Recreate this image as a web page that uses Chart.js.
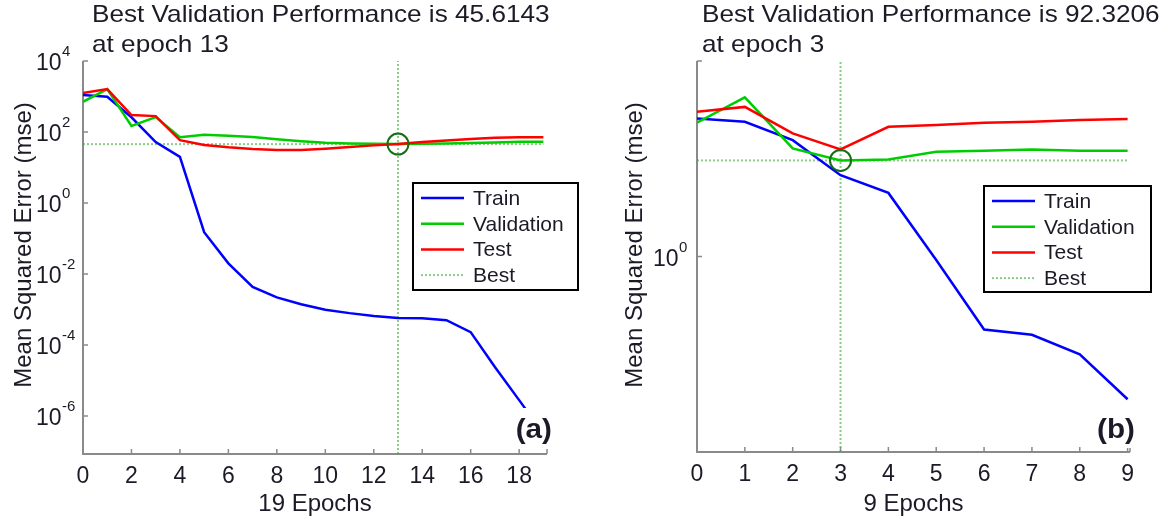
<!DOCTYPE html>
<html lang="en">
<head>
<meta charset="UTF-8">
<title>Best Validation Performance</title>
<script src="https://cdn.jsdelivr.net/npm/chart.js"></script>
<style>
    html, body { margin: 0; padding: 0; background: #fff; }
    #wrap { position: relative; width: 1167px; height: 523px; overflow: hidden; }
    .panel { position: absolute; top: 0; height: 523px; }
</style>
</head>
<body>
<div id="wrap">
    <div class="panel" style="left:0;width:583px"><canvas id="chartA" width="583" height="523"></canvas></div>
    <div class="panel" style="left:583px;width:584px"><canvas id="chartB" width="584" height="523"></canvas></div>
</div>
<script>
// ---- panel (a) ----
var epochsA = [0, 1, 2, 3, 4, 5, 6, 7, 8, 9, 10, 11, 12, 13, 14, 15, 16, 17, 18, 19];
var trainA = [1100, 980, 260, 52, 20, 0.15, 0.02, 0.0043, 0.0022, 0.0014, 0.00098, 0.00079, 0.00066, 0.00058, 0.00057, 0.0005, 0.00023, 0.000024, 0.0000028, 0.00000032];
var validA = [710, 1620, 148, 263, 71, 83, 79, 72, 62, 55, 50, 47.5, 46.5, 45.6143, 46.5, 47.5, 49, 51, 53, 53];
var testA = [1260, 1620, 300, 280, 59, 43, 37, 33, 31, 31, 34, 38, 42, 46, 52, 58, 64, 69, 71, 71];
var bestEpochA = 13;
var bestValA = 45.6143;
var xTicksA = [0, 2, 4, 6, 8, 10, 12, 14, 16, 18];
var yTicksA = [4, 2, 0, -2, -4, -6];           // exponents of 10
var yLabelsA = [4, 2, 0, -2, -4, -6];
var titleA = ['Best Validation Performance is 45.6143', 'at epoch 13'];
var xTitleA = '19 Epochs';

// ---- panel (b) ----
var epochsB = [0, 1, 2, 3, 4, 5, 6, 7, 8, 9];
var trainB = [670, 570, 240, 46, 20, 0.85, 0.032, 0.025, 0.010, 0.0012];
var validB = [545, 1800, 163, 92.3206, 97, 139, 145, 155, 145, 145];
var testB = [912, 1150, 331, 155, 450, 490, 545, 570, 620, 650];
var bestEpochB = 3;
var bestValB = 92.3206;
var xTicksB = [0, 1, 2, 3, 4, 5, 6, 7, 8, 9];
var yTicksB = [4, 0];
var yLabelsB = [0];
var titleB = ['Best Validation Performance is 92.3206', 'at epoch 3'];
var xTitleB = '9 Epochs';

var yTitle = 'Mean Squared Error (mse)';
var legendNames = ['Train', 'Validation', 'Test', 'Best'];

var BLUE = 'rgb(0,0,255)', GREEN = 'rgb(0,205,0)', RED = 'rgb(255,0,0)';
var BEST = 'rgba(60,170,60,0.6)', RING = 'rgb(20,110,20)';
var INK = '#1c1a26';

function pts(xs, ys) {
    return xs.map(function(x, i) { return { x: x, y: ys[i] }; });
}

function txt(ctx, s, x, y, font, align, sx, rot) {
    ctx.save();
    ctx.translate(x, y);
    if (rot) ctx.rotate(rot);
    ctx.scale(sx || 1, 1);
    ctx.font = font;
    ctx.textAlign = align || 'left';
    ctx.textBaseline = 'alphabetic';
    ctx.fillStyle = INK;
    ctx.fillText(s, 0, 0);
    ctx.restore();
}

// matlab-ish axes, labels and legend
function decor(p) {
    return {
        id: 'decor',
        beforeDatasetsDraw: function(chart) {
            var ctx = chart.ctx, a = chart.chartArea;
            var xs = chart.scales.x, ys = chart.scales.y;
            ctx.save();
            ctx.strokeStyle = '#8a8a8a';
            ctx.lineWidth = 2;
            ctx.beginPath();
            ctx.moveTo(a.left, a.top);
            ctx.lineTo(a.left, a.bottom);
            ctx.lineTo(a.right, a.bottom);
            ctx.stroke();
            ctx.lineWidth = 1.5;
            p.xTicks.concat([xs.max]).forEach(function(t) {
                var x = xs.getPixelForValue(t);
                ctx.beginPath(); ctx.moveTo(x, a.bottom); ctx.lineTo(x, a.bottom - 5); ctx.stroke();
            });
            p.yTicks.forEach(function(e) {
                var y = ys.getPixelForValue(Math.pow(10, e));
                ctx.beginPath(); ctx.moveTo(a.left, y); ctx.lineTo(a.left + 5, y); ctx.stroke();
            });
            ctx.restore();
        },
        afterDatasetsDraw: function(chart) {
            var ctx = chart.ctx, a = chart.chartArea;
            var xs = chart.scales.x, ys = chart.scales.y;
            // tick labels
            p.xTicks.forEach(function(t) {
                txt(ctx, String(t), xs.getPixelForValue(t), a.bottom + 29, '23px "Liberation Sans", Arial', 'center');
            });
            p.yLabels.forEach(function(e) {
                var y = ys.getPixelForValue(Math.pow(10, e));
                txt(ctx, '10', a.left - p.yLabOff, y + 9, '23px "Liberation Sans", Arial', 'left');
                txt(ctx, String(e), a.left - p.yLabOff + 26, y - 5, '15px "Liberation Sans", Arial', 'left');
            });
            // titles
            txt(ctx, p.title[0], a.left + p.titleOff, 22, '24px "Liberation Sans", Arial', 'left', 1.09);
            txt(ctx, p.title[1], a.left + p.titleOff, 52, '24px "Liberation Sans", Arial', 'left', 1.09);
            txt(ctx, p.xTitle, (a.left + a.right) / 2, 511, '24px "Liberation Sans", Arial', 'center');
            txt(ctx, yTitle, p.yTitleX, 245, '24px "Liberation Sans", Arial', 'center', 1, -Math.PI / 2);
            // panel tag on white
            ctx.save();
            ctx.fillStyle = '#fff';
            ctx.fillRect(a.right - 36, 408, 40, 40);
            ctx.restore();
            txt(ctx, p.tag, a.right + 5, 438, 'bold 27px "Liberation Sans", Arial', 'right', 1.1);
            // legend
            var L = p.legend;
            ctx.save();
            ctx.fillStyle = '#fff';
            ctx.fillRect(L.x, L.y, L.w, L.h);
            ctx.strokeStyle = '#000';
            ctx.lineWidth = 2;
            ctx.strokeRect(L.x, L.y, L.w, L.h);
            ctx.restore();
            legendNames.forEach(function(name, i) {
                var ds = chart.data.datasets.filter(function(d) { return d.label === name; })[0];
                var y = L.y + 15 + i * 25.7;
                ctx.save();
                ctx.strokeStyle = ds.borderColor;
                ctx.lineWidth = ds.borderWidth;
                ctx.setLineDash(ds.borderDash || []);
                ctx.beginPath(); ctx.moveTo(L.x + 8, y); ctx.lineTo(L.x + 51, y); ctx.stroke();
                ctx.restore();
                txt(ctx, name, L.x + 60, y + 7, '21px "Liberation Sans", Arial', 'left');
            });
        }
    };
}

function makeChart(id, d) {
    return new Chart(document.getElementById(id), {
        type: 'line',
        data: {
            datasets: [
                { label: 'ring', data: [{ x: d.bestEpoch, y: d.bestVal }], showLine: false,
                  pointRadius: 10.5, pointBorderColor: RING, pointBorderWidth: 2,
                  pointBackgroundColor: 'rgba(0,0,0,0)', borderColor: RING },
                { label: 'Test', data: pts(d.epochs, d.test), borderColor: RED, borderWidth: 2.5, pointRadius: 0 },
                { label: 'Validation', data: pts(d.epochs, d.valid), borderColor: GREEN, borderWidth: 2.5, pointRadius: 0 },
                { label: 'Train', data: pts(d.epochs, d.train), borderColor: BLUE, borderWidth: 2.5, pointRadius: 0 },
                { label: 'Best', data: [{ x: 0, y: d.bestVal }, { x: d.epochs[d.epochs.length - 1], y: d.bestVal }],
                  borderColor: BEST, borderWidth: 2, borderDash: [2, 2], pointRadius: 0 },
                { label: 'BestV', data: [{ x: d.bestEpoch, y: d.yMin }, { x: d.bestEpoch, y: d.yMax }],
                  borderColor: BEST, borderWidth: 2, borderDash: [2, 2], pointRadius: 0 }
            ]
        },
        options: {
            responsive: false,
            animation: false,
            devicePixelRatio: 1,
            layout: { padding: d.pad },
            plugins: { legend: { display: false }, tooltip: { enabled: false } },
            elements: { line: { tension: 0 } },
            scales: {
                x: { type: 'linear', min: 0, max: d.xMax, display: false },
                y: { type: 'logarithmic', min: d.yMin, max: d.yMax, display: false }
            }
        },
        plugins: [decor(d.deco)]
    });
}

makeChart('chartA', {
    epochs: epochsA, train: trainA, valid: validA, test: testA,
    bestEpoch: bestEpochA, bestVal: bestValA,
    xMax: 19.15, yMin: 8.5e-8, yMax: 1e4,
    pad: { left: 83, top: 61, right: 36, bottom: 69 },
    deco: { xTicks: xTicksA, yTicks: yTicksA, yLabels: yLabelsA, title: titleA, xTitle: xTitleA,
            titleOff: 9, yLabOff: 47, yTitleX: 31, tag: '(a)', legend: { x: 413, y: 183, w: 165, h: 107 } }
});

makeChart('chartB', {
    epochs: epochsB, train: trainB, valid: validB, test: testB,
    bestEpoch: bestEpochB, bestVal: bestValB,
    xMax: 9.05, yMin: 1e-4, yMax: 1e4,
    pad: { left: 114, top: 61, right: 37, bottom: 71 },
    deco: { xTicks: xTicksB, yTicks: yTicksB, yLabels: yLabelsB, title: titleB, xTitle: xTitleB,
            titleOff: 5, yLabOff: 44, yTitleX: 59, tag: '(b)', legend: { x: 401, y: 186, w: 167, h: 106 } }
});
</script>
</body>
</html>
